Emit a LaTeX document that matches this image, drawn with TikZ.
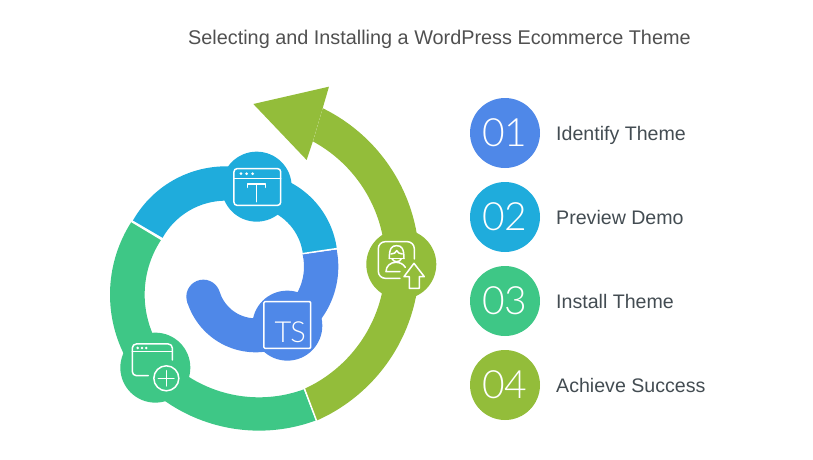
\documentclass[tikz,border=0pt]{standalone}
\usepackage{fontspec}
\setmainfont{Liberation Sans}
\newfontfamily\thinfont[LetterSpace=-3]{Lato Light}
\definecolor{cblue}{HTML}{4F88E8}
\definecolor{ccyan}{HTML}{1FACDC}
\definecolor{cgreen}{HTML}{3EC786}
\definecolor{colive}{HTML}{93BD3A}
\definecolor{ctext}{HTML}{434C52}
\definecolor{ctitle}{HTML}{505050}
\tikzset{
  numdisc/.style={circle,minimum size=70pt,inner sep=0pt,text=white,font=\thinfont\fontsize{39}{39}\selectfont},
  itemlabel/.style={anchor=base west,inner sep=0pt,text=ctext,font=\fontsize{19.6}{20}\selectfont},
  icon/.style={draw=white,line width=1.5pt,line cap=round,line join=round},
  sep/.style={draw=white,line width=1.5pt},
  hub/.style={circle,minimum size=70pt,inner sep=0pt}
}
% colour, centre x, centre y, outer R, inner R, outer from, outer to, inner from, inner to
\newcommand{\ringpart}[9]{%
  \fill[#1] plot[domain=#6:#7,samples=40,smooth] ({#2+#4*cos(\x)},{#3+#4*sin(\x)})
    -- plot[domain=#8:#9,samples=40,smooth] ({#2+#5*cos(\x)},{#3+#5*sin(\x)}) -- cycle;}
\begin{document}
\begin{tikzpicture}[x=1pt,y=-1pt]
\useasboundingbox (0,0) rectangle (813,459);
\node[anchor=base west,inner sep=0pt,text=ctitle,font=\fontsize{19.84}{20}\selectfont] (title) at (188,44) {Selecting and Installing a WordPress Ecommerce Theme};

\node[numdisc,fill=cblue] (n1) at (505,133) {01};
\node[numdisc,fill=ccyan] (n2) at (505,217) {02};
\node[numdisc,fill=cgreen] (n3) at (505,301) {03};
\node[numdisc,fill=colive] (n4) at (505,385) {04};
\node[itemlabel] (l1) at (556,140) {Identify Theme};
\node[itemlabel] (l2) at (556,224) {Preview Demo};
\node[itemlabel] (l3) at (556,308) {Install Theme};
\node[itemlabel] (l4) at (556,392) {Achieve Success};

\begin{scope}[shift={(90,70)},x=0.3333pt,y=-0.3333pt]
% olive arrow
\ringpart{colive}{471}{579}{517}{415}{66.2}{0}{0}{65.2}
\ringpart{colive}{471}{579}{517}{415}{0}{-63.9}{-61.5}{0}
\fill[colive] (717,50) -- (490,102) -- (650,270) -- (668,216) -- (698,115) -- cycle;
\node[hub,fill=colive] (hubd) at (934,583) {};
% green
\ringpart{cgreen}{463}{674}{403}{299}{213}{140}{140}{213.6}
\ringpart{cgreen}{507}{590}{492}{392}{135.7}{69.7}{69.9}{135.7}
\node[hub,fill=cgreen] (hubc) at (196,893) {};
% cyan
\ringpart{ccyan}{408}{610}{321}{218}{209.6}{289.5}{289.5}{209.3}
\ringpart{ccyan}{478}{572}{265}{162}{-84}{-8}{-7.7}{-84}
\node[hub,fill=ccyan] (hubb) at (500,350) {};
% blue
\ringpart{cblue}{497}{632}{215}{113}{163}{54.9}{54.9}{163}
\fill[cblue] (340,680) circle[radius=17pt];
\ringpart{cblue}{480}{590}{265}{162}{-11.2}{57.7}{57.7}{-13.4}
\node[hub,fill=cblue] (huba) at (592,767) {};
% separators
\path[sep] (638,551) -- (746,535);
\path[sep] (124,454) -- (217,510);
\path[sep] (642,953) -- (681,1056);
% cyan icon
\draw[icon,rounded corners=3pt] (432,296) rectangle (572,406);
\draw[icon] (432,325) -- (572,325);
\fill[white] (453,311) circle[radius=1.5pt] (470,311) circle[radius=1.5pt] (488,311) circle[radius=1.5pt];
\draw[icon] (472,352) -- (472,342) -- (527,342) -- (527,352) (499,342) -- (499,395);
% TS icon
\draw[icon,rounded corners=1pt] (522,695) rectangle (662,835);
\node[inner sep=0pt,anchor=base,text=white,font=\thinfont\fontsize{29}{29}\selectfont] (ts) at (601,818) {TS};
% green icon
\draw[icon,rounded corners=4pt] (175,917) -- (127,917) -- (127,822) -- (247,822) -- (247,870);
\draw[icon] (127,845) -- (247,845);
\fill[white] (143,834) circle[radius=1.4pt] (156,834) circle[radius=1.4pt] (169,834) circle[radius=1.4pt];
\draw[icon] (229,925) circle[radius=12.5pt];
\draw[icon] (205,925) -- (252,925) (229,902) -- (229,948);
% olive icon
\draw[icon,rounded corners=7pt] (930,625) -- (865,625) -- (865,515) -- (973,515) -- (973,567);
\draw[icon] (972,580) -- (942,620) -- (958,620) -- (958,655) -- (988,655) -- (988,620) -- (1003,620) -- cycle;
\draw[icon] (898,566) .. controls (898,535) and (905,527) .. (920,527) .. controls (935,527) and (942,535) .. (942,566);
\draw[icon] (898,566) -- (942,566);
\draw[icon] (903,552) .. controls (912,552) and (918,548) .. (920,542) .. controls (923,548) and (930,552) .. (937,552);
\draw[icon] (906,566) .. controls (908,572) and (914,575) .. (920,575) .. controls (927,575) and (932,572) .. (934,566);
\draw[icon] (930,605) -- (888,605) .. controls (888,588) and (902,577) .. (917,577) .. controls (930,577) and (940,582) .. (946,592);
\end{scope}
\end{tikzpicture}
\end{document}
